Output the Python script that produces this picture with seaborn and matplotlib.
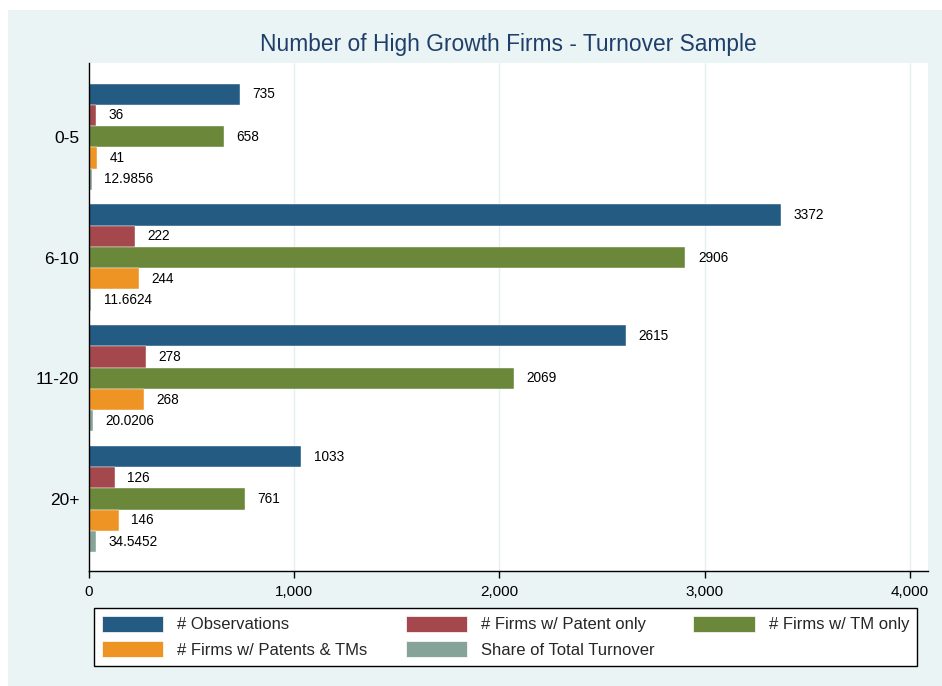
import matplotlib
matplotlib.use("Agg")
import matplotlib.pyplot as plt
from matplotlib.patches import Rectangle
from matplotlib.ticker import FuncFormatter
import seaborn as sns
import pandas as pd

categories = ["0-5", "6-10", "11-20", "20+"]
series_names = ["# Observations", "# Firms w/ Patent only", "# Firms w/ TM only",
                "# Firms w/ Patents & TMs", "Share of Total Turnover"]
observations = [735, 3372, 2615, 1033]
patent_only = [36, 222, 278, 126]
tm_only = [658, 2906, 2069, 761]
patents_tms = [41, 244, 268, 146]
share_turnover = [12.9856, 11.6624, 20.0206, 34.5452]
x_ticks = [0, 1000, 2000, 3000, 4000]

colors = ["#245B83", "#A4484D", "#6A873A", "#EE9424", "#86A399"]

series_values = [observations, patent_only, tm_only, patents_tms, share_turnover]
rows = []
for name, vals in zip(series_names, series_values):
    for cat, v in zip(categories, vals):
        rows.append({"group": cat, "series": name, "value": v})
df = pd.DataFrame(rows)

sns.set_theme(style="white")
plt.rcParams["font.family"] = ["Liberation Sans", "DejaVu Sans"]

W, H = 942, 686
fig = plt.figure(figsize=(W / 100, H / 100), dpi=100)
fig.patch.set_facecolor("white")
fig.patches.append(Rectangle((8 / W, 0), 1 - 8 / W, (H - 10) / H, transform=fig.transFigure,
                             facecolor="#EAF4F4", edgecolor="none", zorder=-10))

ax = fig.add_axes([89 / W, (H - 571) / H, (928 - 89) / W, (571 - 63) / H])
ax.set_facecolor("white")

sns.barplot(data=df, x="value", y="group", hue="series", orient="h",
            palette=colors, width=0.88, gap=0, ax=ax, legend=False,
            hue_order=series_names, order=categories, saturation=1,
            edgecolor="white", linewidth=0.3)

for i, cont in enumerate(ax.containers):
    vals = series_values[i]
    if i == 4:
        labels = [f"{v:.4f}" for v in vals]
    else:
        labels = [f"{v:d}" for v in vals]
    ax.bar_label(cont, labels=labels, padding=9, fontsize=9.8, color="black")

ax.set_xlim(0, 4088)
ax.set_ylim(3.595, -0.61)
ax.set_xticks(x_ticks)
ax.xaxis.set_major_formatter(FuncFormatter(lambda v, p: f"{int(v):,}"))
ax.tick_params(axis="x", length=5, width=1, color="black", labelsize=11, pad=5, bottom=True)
ax.tick_params(axis="y", length=0, labelsize=12.5, pad=7)
for t in ax.get_yticklabels():
    t.set_color("black")
for t in ax.get_xticklabels():
    t.set_color("black")
ax.set_xlabel("")
ax.set_ylabel("")
for x in x_ticks[1:]:
    ax.axvline(x, color="#E4EFF0", linewidth=1, zorder=0)
for s in ["top", "right"]:
    ax.spines[s].set_visible(False)
for s in ["left", "bottom"]:
    ax.spines[s].set_visible(True)
    ax.spines[s].set_color("black")
    ax.spines[s].set_linewidth(1)

fig.text((89 + 928) / 2 / W, (H - 45) / H, "Number of High Growth Firms - Turnover Sample",
         ha="center", va="center", fontsize=16.4, color="#1F3F6A")

handles = [Rectangle((0, 0), 1, 1, facecolor=c, edgecolor="white", linewidth=0.5) for c in colors]
order = [0, 3, 1, 4, 2]
leg = fig.legend([handles[i] for i in order], [series_names[i] for i in order],
                 ncol=3, loc="upper left",
                 bbox_to_anchor=(94 / W, (H - 608) / H),
                 fontsize=12, frameon=True, fancybox=False, framealpha=1,
                 handlelength=3.7, handleheight=1.1, handletextpad=0.84,
                 borderpad=0.45, labelspacing=0.55, columnspacing=2.3, borderaxespad=0)
leg.get_frame().set_edgecolor("black")
leg.get_frame().set_linewidth(1)
leg.get_frame().set_facecolor("white")

fig.savefig("out.png", dpi=100, facecolor=fig.get_facecolor())
